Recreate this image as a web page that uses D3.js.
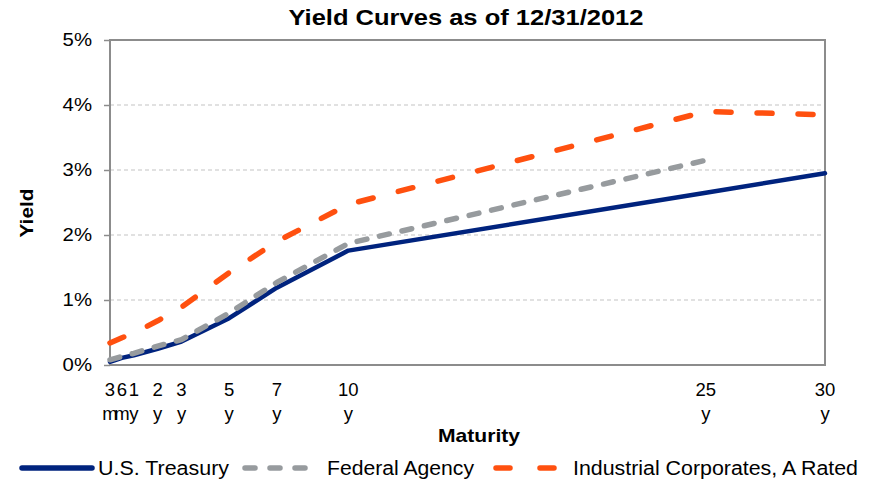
<!DOCTYPE html>
<html>
<head>
<meta charset="utf-8">
<script src="https://cdn.jsdelivr.net/npm/d3@7"></script>
<style>
  body { margin: 0; background: #fff; }
  svg { display: block; font-family: "Liberation Sans", Arial, sans-serif; }
</style>
</head>
<body>
<svg id="chart" width="869" height="481"></svg>
<script>
// ---- data ----
const maturityLabels = [["3", "m"], ["6", "m"], ["1", "y"], ["2", "y"], ["3", "y"], ["5", "y"], ["7", "y"], ["10", "y"], ["25", "y"], ["30", "y"]];
const maturityYears = [0, 0.5, 1, 2, 3, 5, 7, 10, 25, 30];
const treasury   = [0.05, 0.11, 0.15, 0.25, 0.36, 0.72, 1.19, 1.76, 2.65, 2.95];
const agency     = [0.08, 0.13, 0.18, 0.29, 0.39, 0.80, 1.27, 1.87, 3.15, null];
const industrial = [0.34, 0.42, 0.49, 0.68, 0.89, 1.42, 1.90, 2.47, 3.90, 3.85];
const yTicks = [0, 1, 2, 3, 4, 5];
const seriesNames = ["U.S. Treasury", "Federal Agency", "Industrial Corporates, A Rated"];

const svg = d3.select("#chart");
const L = 110, R = 825, T = 40, B = 365;
const x = d3.scaleLinear().domain([0, 30]).range([L, R]);
const y = d3.scaleLinear().domain([0, 5]).range([B, T]);
const STRETCH = 1.1;

// widen text horizontally (reference glyphs are slightly wide)
function widen(sel, target) {
  sel.each(function () {
    const w = this.getComputedTextLength();
    d3.select(this).attr("textLength", target || w * STRETCH).attr("lengthAdjust", "spacingAndGlyphs");
  });
}

const styles = [
  { color: "#00237e", dash: null },
  { color: "#979b9e", dash: "10,13" },
  { color: "#ff500f", dash: "15,26" }
];

// title
svg.append("text").attr("x", 466).attr("y", 25).attr("text-anchor", "middle")
  .attr("font-size", 22).attr("font-weight", "bold").text("Yield Curves as of 12/31/2012")
  .call(widen, 355);

// gridlines
svg.append("g").selectAll("line").data(yTicks.filter(d => d > 0 && d < 5)).join("line")
  .attr("x1", L).attr("x2", R).attr("y1", d => y(d)).attr("y2", d => y(d))
  .attr("stroke", "#c3c3c3").attr("stroke-width", 1.2).attr("stroke-dasharray", "4,3");

// y axis
const yAxis = svg.append("g").attr("transform", `translate(${L},0)`)
  .call(d3.axisLeft(y).tickValues(yTicks).tickFormat(d => d + "%").tickSize(6).tickPadding(12));
yAxis.select(".domain").remove();
yAxis.selectAll(".tick line").attr("stroke", "#8c8c8c").attr("stroke-width", 1.5);
yAxis.selectAll(".tick text").attr("font-size", 18.5).attr("fill", "#000")
  .attr("font-family", "Liberation Sans, Arial, sans-serif").call(widen);

// frame
svg.append("rect").attr("x", L).attr("y", T).attr("width", R - L).attr("height", B - T)
  .attr("fill", "none").attr("stroke", "#8c8c8c").attr("stroke-width", 2);

// x labels
const xl = svg.append("g");
maturityLabels.forEach((lab, i) => {
  const t = xl.append("text").attr("x", x(maturityYears[i])).attr("y", 396)
    .attr("text-anchor", "middle").attr("font-size", 18.5);
  t.append("tspan").attr("x", x(maturityYears[i])).attr("dy", 0).text(lab[0]);
  t.append("tspan").attr("x", x(maturityYears[i])).attr("dy", 24).text(lab[1]);
});

svg.append("text").attr("x", 479).attr("y", 442).attr("text-anchor", "middle")
  .attr("font-size", 19).attr("font-weight", "bold").text("Maturity").call(widen, 82);
svg.append("text").attr("transform", "translate(33,213) rotate(-90)").attr("text-anchor", "middle")
  .attr("font-size", 19).attr("font-weight", "bold").text("Yield").call(widen, 49);

// lines
const line = d3.line().x(d => x(d[0])).y(d => y(d[1]));
[treasury, agency, industrial].forEach((vals, i) => {
  const pts = maturityYears.map((m, j) => [m, vals[j]]).filter(p => p[1] != null);
  svg.append("path").datum(pts).attr("d", line).attr("fill", "none")
    .attr("stroke", styles[i].color).attr("stroke-width", i === 0 ? 4.5 : 5.5)
    .attr("stroke-linecap", "round").attr("stroke-linejoin", "round")
    .attr("stroke-dasharray", styles[i].dash);
});

// legend
const legendItems = [
  { x1: 22, x2: 92, tx: 98, w: 131 },
  { x1: 245, x2: 312, tx: 327, w: 147 },
  { x1: 496, x2: 559, tx: 573, w: 285 }
];
legendItems.forEach((it, i) => {
  svg.append("line").attr("x1", it.x1).attr("x2", it.x2).attr("y1", 468).attr("y2", 468)
    .attr("stroke", styles[i].color).attr("stroke-width", 5.5).attr("stroke-linecap", "round")
    .attr("stroke-dasharray", i === 1 ? "10,15" : i === 2 ? "14,30" : null);
  svg.append("text").attr("x", it.tx).attr("y", 475).attr("font-size", 19.5).text(seriesNames[i])
    .call(widen, it.w);
});
</script>
</body>
</html>
